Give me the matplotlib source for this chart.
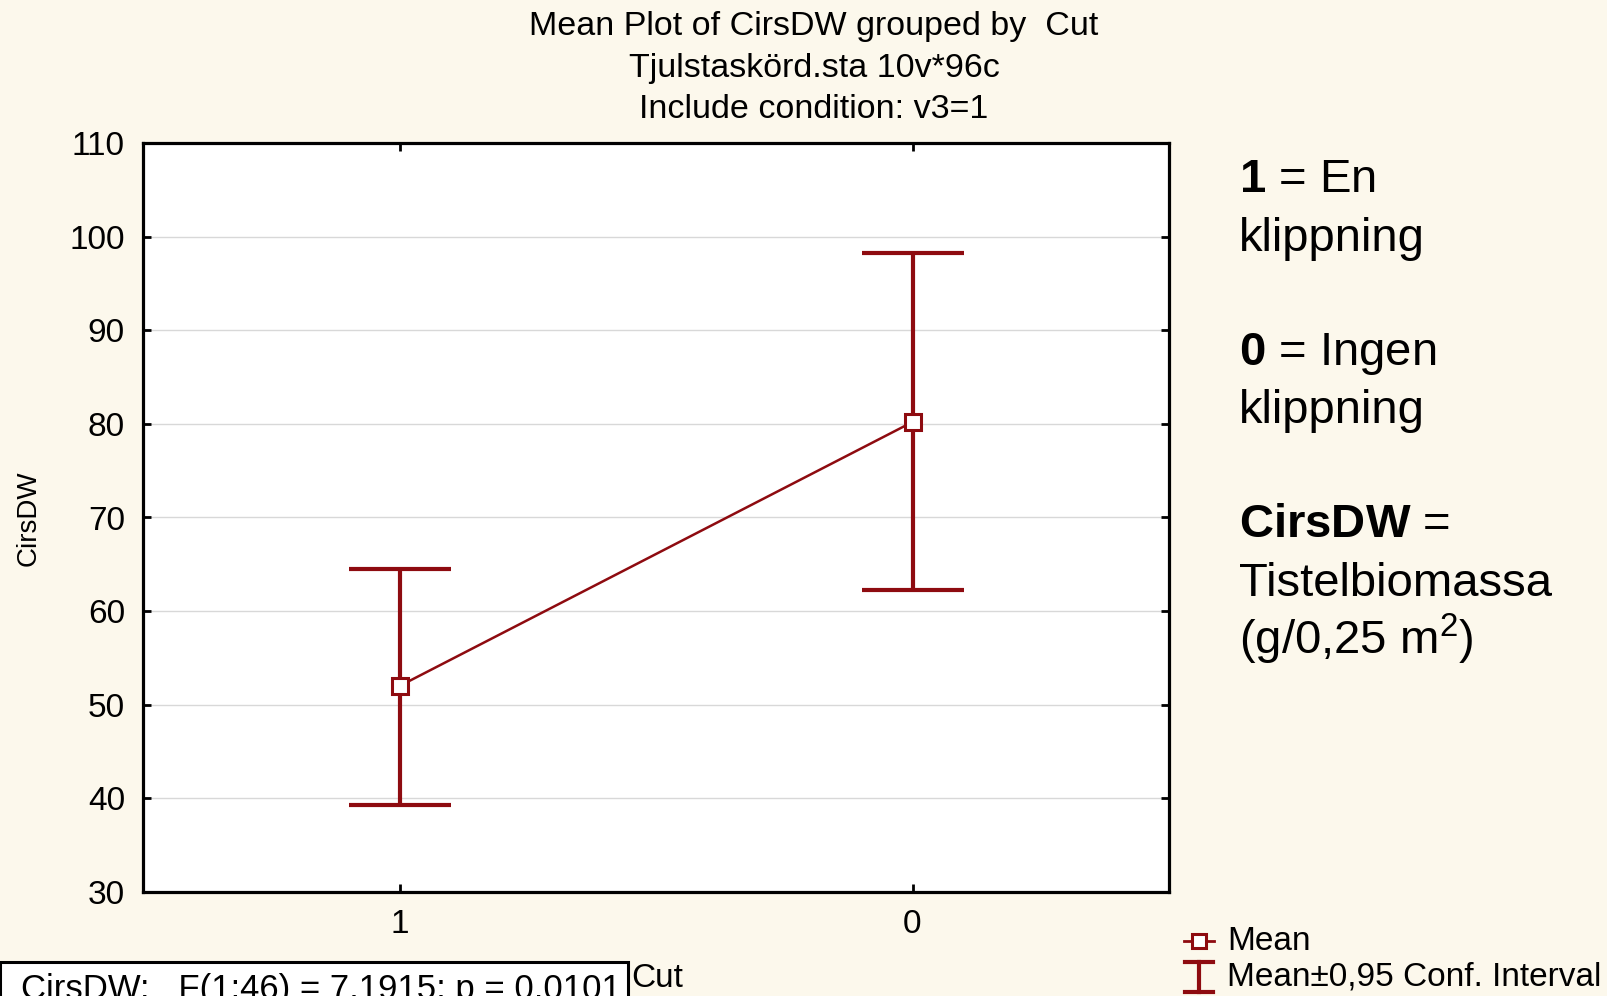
import matplotlib
matplotlib.use("Agg")
import numpy as np
import matplotlib.pyplot as plt
from matplotlib.lines import Line2D
from matplotlib.patches import Rectangle

# group means and 95% confidence limits for CirsDW
cut_levels = ['1', '0']
means = [52.0, 80.2]
ci_low = [39.3, 62.3]
ci_high = [64.5, 98.3]

yticks = [30, 40, 50, 60, 70, 80, 90, 100, 110]

RED = '#8E0B10'
BG = '#FCF8EC'

plt.rcParams['font.family'] = ['Liberation Sans', 'DejaVu Sans']
plt.rcParams['mathtext.fontset'] = 'custom'
plt.rcParams['mathtext.rm'] = 'Liberation Sans'
plt.rcParams['mathtext.bf'] = 'Liberation Sans:bold'

W, H = 1608, 996
fig = plt.figure(figsize=(W / 100, H / 100), dpi=100, facecolor=BG)

def fx(px):
    return px / W

def fy(py):
    return 1 - py / H

ax = fig.add_axes([fx(143), fy(892), fx(1169) - fx(143), fy(143) - fy(892)])
ax.set_facecolor('white')

x = np.arange(len(cut_levels))
m = np.array(means)
yerr = [m - np.array(ci_low), np.array(ci_high) - m]

ax.errorbar(x, m, yerr=yerr, fmt='none', ecolor=RED, elinewidth=3.0,
            capsize=37, capthick=3.0, zorder=3)
ax.plot(x, m, color=RED, lw=1.8, marker='s', ms=12, mfc='white',
        mec=RED, mew=2.2, zorder=4)

ax.set_xlim(-0.5, 1.5)
ax.set_ylim(30, 110)
ax.set_xticks(x)
ax.set_xticklabels(cut_levels)
ax.set_yticks(yticks)
ax.yaxis.grid(True, color='#d8d8d8', lw=1.0)
ax.set_axisbelow(True)

for s in ax.spines.values():
    s.set_linewidth(2.3)
ax.tick_params(direction='in', length=6, width=2, labelsize=24,
               top=True, right=True, colors='black')
ax.tick_params(axis='y', pad=13)
ax.tick_params(axis='x', pad=12)

fig.text(fx(29), fy(518), 'CirsDW', rotation=90, fontsize=20,
         ha='center', va='center')

# three-line header
header = ['Mean Plot of CirsDW grouped by  Cut',
          'Tjulstaskörd.sta 10v*96c',
          'Include condition: v3=1']
for i, line in enumerate(header):
    fig.text(fx(814), fy(26 + 42 * i), line, fontsize=24.5,
             ha='center', va='center')

# explanation of the codes on the right
notes = [(192, r'$\mathbf{1}$ = En'),
         (251, 'klippning'),
         (365, r'$\mathbf{0}$ = Ingen'),
         (423, 'klippning'),
         (537, r'$\mathbf{CirsDW}$ ='),
         (596, 'Tistelbiomassa'),
         (654, r'(g/0,25 m$^{2}$)')]
for yy, txt in notes:
    fig.text(fx(1239), fy(yy), txt, fontsize=34, ha='left', va='baseline')

# F-test box at the bottom, partly cut by the figure edge
fig.add_artist(Rectangle((fx(0), fy(1010)), fx(628), fy(962) - fy(1010),
                         transform=fig.transFigure, facecolor='white',
                         edgecolor='black', lw=2.2))
fig.text(fx(21), fy(999), 'CirsDW:   F(1:46) = 7,1915; p = 0,0101',
         fontsize=25, ha='left', va='baseline')
fig.text(fx(631), fy(963), 'Cut', fontsize=24, ha='left', va='top')

# legend
fig.add_artist(Line2D([fx(1184), fx(1214)], [fy(941), fy(941)],
                      transform=fig.transFigure, color=RED, lw=2.0))
fig.add_artist(Line2D([fx(1199)], [fy(941)], transform=fig.transFigure,
                      marker='s', ms=10, mfc='white', mec=RED, mew=2.2,
                      color=RED))
fig.add_artist(Line2D([fx(1199), fx(1199)], [fy(962), fy(992)],
                      transform=fig.transFigure, color=RED, lw=3.0))
fig.add_artist(Line2D([fx(1185), fx(1213)], [fy(962), fy(962)],
                      transform=fig.transFigure, color=RED, lw=3.0))
fig.add_artist(Line2D([fx(1185), fx(1213)], [fy(992), fy(992)],
                      transform=fig.transFigure, color=RED, lw=3.0))
fig.text(fx(1227), fy(941), 'Mean', fontsize=24, ha='left', va='center')
fig.text(fx(1227), fy(977), 'Mean±0,95 Conf. Interval', fontsize=24,
         ha='left', va='center')

fig.savefig('out.png', dpi=100, facecolor=BG)
